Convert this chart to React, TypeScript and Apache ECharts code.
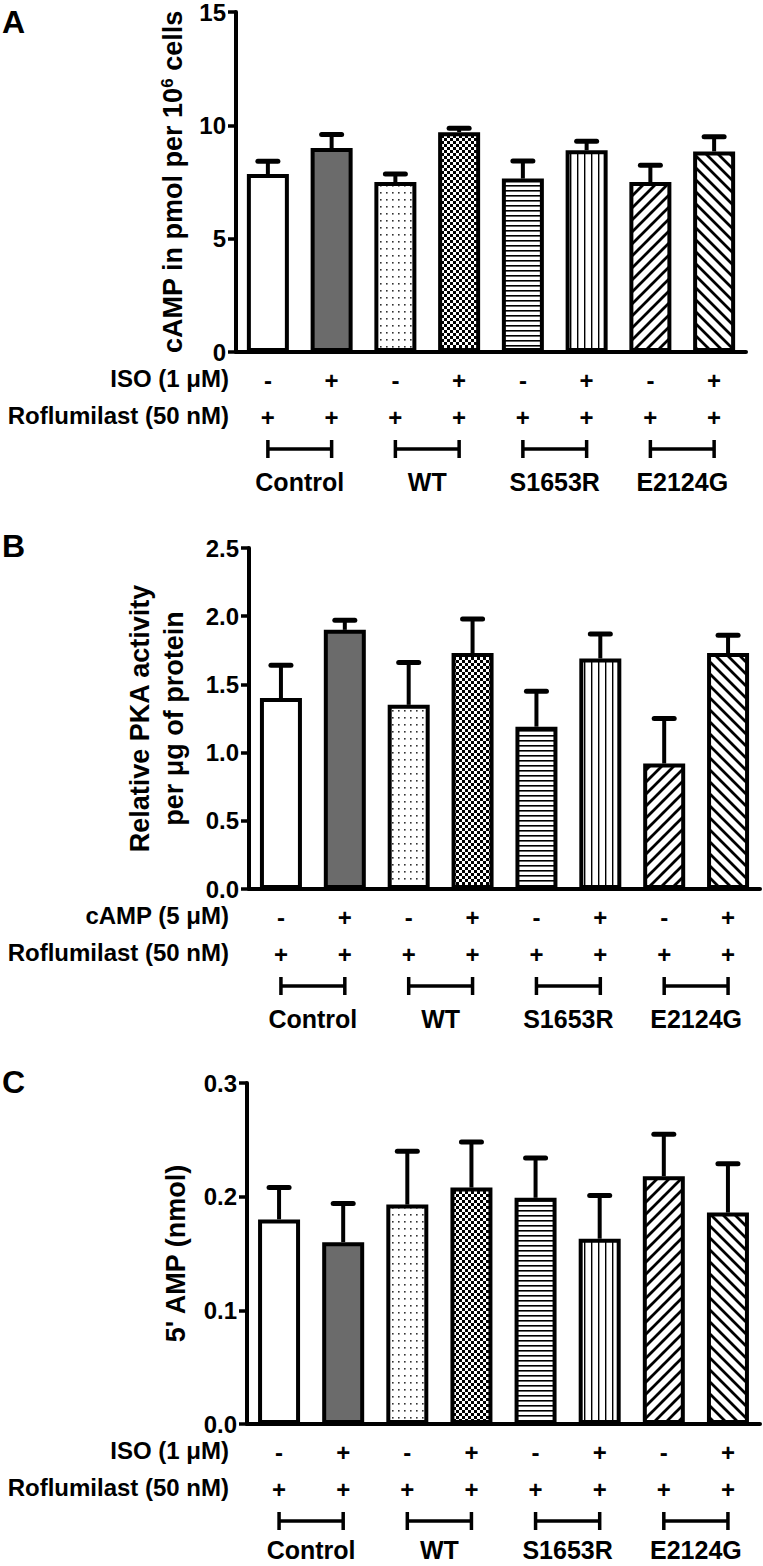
import React, { useEffect, useRef } from "react";
import * as echarts from "echarts";

const FONT = '"Liberation Sans", Arial, Helvetica, sans-serif';

// ---- data ----
const categories = ["Control -", "Control +", "WT -", "WT +", "S1653R -", "S1653R +", "E2124G -", "E2124G +"];
const groups = ["Control", "WT", "S1653R", "E2124G"];
const stimSigns = ["-", "+", "-", "+", "-", "+", "-", "+"];
const roflumilastSigns = ["+", "+", "+", "+", "+", "+", "+", "+"];

const campMean = [7.85, 9.0, 7.5, 9.7, 7.65, 8.9, 7.5, 8.85];
const campSem = [0.57, 0.6, 0.35, 0.17, 0.78, 0.4, 0.74, 0.65];
const campTicks = [0, 5, 10, 15];

const pkaMean = [1.4, 1.9, 1.35, 1.73, 1.19, 1.69, 0.92, 1.73];
const pkaSem = [0.24, 0.07, 0.31, 0.25, 0.26, 0.18, 0.33, 0.13];
const pkaTicks = [0, 0.5, 1.0, 1.5, 2.0, 2.5];

const ampMean = [0.18, 0.16, 0.193, 0.208, 0.199, 0.163, 0.218, 0.186];
const ampSem = [0.028, 0.034, 0.047, 0.04, 0.035, 0.038, 0.037, 0.043];
const ampTicks = [0, 0.1, 0.2, 0.3];

const stimLabels = ["ISO (1 \u03bcM)", "cAMP (5 \u03bcM)", "ISO (1 \u03bcM)"];
const rofLabel = "Roflumilast (50 nM)";
const panelLetters = ["A", "B", "C"];

// ---- layout (positions only) ----
const grids = [
  { left: 236, top: 10, width: 510, height: 342 },
  { left: 249, top: 548, width: 511, height: 341 },
  { left: 247, top: 1083, width: 513, height: 341 },
];
const letterTops = [6, 530, 1066];
const groupLabelOffsets = [130, 130, 126];

function makePattern(w: number, h: number, draw: (ctx: CanvasRenderingContext2D) => void) {
  const c = document.createElement("canvas");
  c.width = w;
  c.height = h;
  const ctx = c.getContext("2d")!;
  ctx.fillStyle = "#fff";
  ctx.fillRect(0, 0, w, h);
  draw(ctx);
  return { image: c, repeat: "repeat" } as any;
}

function buildFills() {
  const dots = makePattern(6, 7, (ctx) => {
    ctx.fillStyle = "#333";
    ctx.fillRect(2, 3, 1.6, 1.6);
  });
  const checker = makePattern(6, 6, (ctx) => {
    ctx.fillStyle = "#000";
    ctx.fillRect(0, 0, 3, 3);
    ctx.fillRect(3, 3, 3, 3);
  });
  const hlines = makePattern(4, 5, (ctx) => {
    ctx.fillStyle = "#000";
    ctx.fillRect(0, 0, 4, 1.6);
  });
  const vlines = makePattern(7, 4, (ctx) => {
    ctx.fillStyle = "#000";
    ctx.fillRect(3, 0, 1.4, 4);
  });
  const diag = (back: boolean) =>
    makePattern(12, 12, (ctx) => {
      ctx.strokeStyle = "#000";
      ctx.lineWidth = 2.8;
      ctx.beginPath();
      if (!back) {
        for (const k of [-12, 0, 12]) {
          ctx.moveTo(k - 2, 14);
          ctx.lineTo(k + 14, -2);
        }
      } else {
        for (const k of [-12, 0, 12]) {
          ctx.moveTo(k - 2, -2);
          ctx.lineTo(k + 14, 14);
        }
      }
      ctx.stroke();
    });
  return ["#ffffff", "#6b6b6b", dots, checker, hlines, vlines, diag(false), diag(true)];
}

export default function App() {
  const ref = useRef<HTMLDivElement>(null);
  useEffect(() => {
    const chart = echarts.init(ref.current!, undefined, { renderer: "svg" });
    const fills = buildFills();
    const means = [campMean, pkaMean, ampMean];
    const sems = [campSem, pkaSem, ampSem];
    const ticks = [campTicks, pkaTicks, ampTicks];

    const yNames: any[] = [
      {
        name: "{a|cAMP in pmol per 10}{s|6}{a| cells}",
        gap: 50,
        style: {
          rich: {
            a: { fontSize: 27, fontWeight: "bold", fontFamily: FONT, color: "#000" },
            s: { fontSize: 17, fontWeight: "bold", fontFamily: FONT, color: "#000", verticalAlign: "top" },
          },
        },
      },
      {
        name: "Relative PKA activity\nper \u03bcg of protein",
        gap: 58,
        style: { fontSize: 27, fontWeight: "bold", fontFamily: FONT, color: "#000", lineHeight: 34 },
      },
      {
        name: "5' AMP (nmol)",
        gap: 58,
        style: { fontSize: 27, fontWeight: "bold", fontFamily: FONT, color: "#000" },
      },
    ];

    const xAxis: any[] = [];
    const yAxis: any[] = [];
    const series: any[] = [];
    const graphic: any[] = [];

    for (let p = 0; p < 3; p++) {
      const t = ticks[p];
      xAxis.push({
        type: "category",
        gridIndex: p,
        data: categories,
        axisLine: { lineStyle: { color: "#000", width: 4 } },
        axisTick: { alignWithLabel: true, length: 11, lineStyle: { color: "#000", width: 3.5 } },
        axisLabel: { show: false },
      });
      yAxis.push({
        type: "value",
        gridIndex: p,
        min: t[0],
        max: t[t.length - 1],
        interval: t[1] - t[0],
        splitLine: { show: false },
        axisLine: { show: true, lineStyle: { color: "#000", width: 4 } },
        axisTick: { show: true, length: 8, lineStyle: { color: "#000", width: 3.5 } },
        axisLabel: {
          margin: 10,
          fontSize: 24,
          fontWeight: "bold",
          fontFamily: FONT,
          color: "#000",
          formatter: (v: number) => (p === 0 ? String(Math.round(v)) : v.toFixed(1)),
        },
        name: yNames[p].name,
        nameLocation: "middle",
        nameGap: yNames[p].gap,
        nameTextStyle: yNames[p].style,
      });
      series.push({
        type: "bar",
        xAxisIndex: p,
        yAxisIndex: p,
        barWidth: 42,
        z: 2,
        data: means[p].map((v, i) => ({
          value: v,
          itemStyle: { color: fills[i], borderColor: "#000", borderWidth: 4 },
        })),
      });
      series.push({
        type: "custom",
        xAxisIndex: p,
        yAxisIndex: p,
        z: 3,
        clip: false,
        data: means[p].map((v, i) => [i, v, sems[p][i]]),
        renderItem: (params: any, api: any) => {
          const i = api.value(0);
          const m = api.value(1);
          const e = api.value(2);
          const base = api.coord([i, m]);
          const top = api.coord([i, m + e]);
          return {
            type: "group",
            children: [
              {
                type: "line",
                shape: { x1: base[0], y1: base[1], x2: top[0], y2: top[1] },
                style: { stroke: "#000", lineWidth: 4 },
              },
              {
                type: "line",
                shape: { x1: top[0] - 10, y1: top[1], x2: top[0] + 10, y2: top[1] },
                style: { stroke: "#000", lineWidth: 5, lineCap: "round" },
              },
            ],
          };
        },
      });
      // treatment signs, brackets and group names under each axis
      const gOff = groupLabelOffsets[p];
      series.push({
        type: "custom",
        xAxisIndex: p,
        yAxisIndex: p,
        z: 3,
        clip: false,
        silent: true,
        data: categories.map((_, i) => [i, 0]),
        renderItem: (params: any, api: any) => {
          const i = api.value(0);
          const pt = api.coord([i, 0]);
          const txt = (s: string, x: number, y: number, size: number) => ({
            type: "text",
            style: {
              text: s,
              x,
              y,
              fill: "#000",
              font: `bold ${size}px ${FONT}`,
              align: "center",
              verticalAlign: "middle",
              textAlign: "center",
              textVerticalAlign: "middle",
            },
          });
          const children: any[] = [
            txt(stimSigns[i], pt[0], pt[1] + 28, 24),
            txt(roflumilastSigns[i], pt[0], pt[1] + 65, 24),
          ];
          if (i % 2 === 1) {
            const prev = api.coord([i - 1, 0]);
            const by = pt[1] + 97;
            const ls = { stroke: "#000", lineWidth: 3.5 };
            children.push(
              { type: "line", shape: { x1: prev[0], y1: by, x2: pt[0], y2: by }, style: ls },
              { type: "line", shape: { x1: prev[0], y1: by - 9, x2: prev[0], y2: by + 9 }, style: ls },
              { type: "line", shape: { x1: pt[0], y1: by - 9, x2: pt[0], y2: by + 9 }, style: ls },
              txt(groups[(i - 1) / 2], (prev[0] + pt[0]) / 2, pt[1] + gOff, 25)
            );
          }
          return { type: "group", children };
        },
      });

      const axisY = grids[p].top + grids[p].height;
      const rowStyle = (text: string, y: number) => ({
        type: "text",
        right: 763 - 229,
        top: y - 14,
        style: { text, fill: "#000", font: `bold 24px ${FONT}`, textAlign: "right" },
      });
      graphic.push(rowStyle(stimLabels[p], axisY + 28));
      graphic.push(rowStyle(rofLabel, axisY + 65));
      graphic.push({
        type: "text",
        left: 2,
        top: letterTops[p],
        style: { text: panelLetters[p], fill: "#000", font: `bold 32px ${FONT}` },
      });
    }

    chart.setOption({
      animation: false,
      backgroundColor: "#fff",
      grid: grids.map((g) => ({ ...g, containLabel: false })),
      xAxis,
      yAxis,
      series,
      graphic,
    });
    return () => chart.dispose();
  }, []);
  return (
    <div
      ref={ref}
      style={{ position: "absolute", left: 0, top: 0, width: 763, height: 1566 }}
    />
  );
}
